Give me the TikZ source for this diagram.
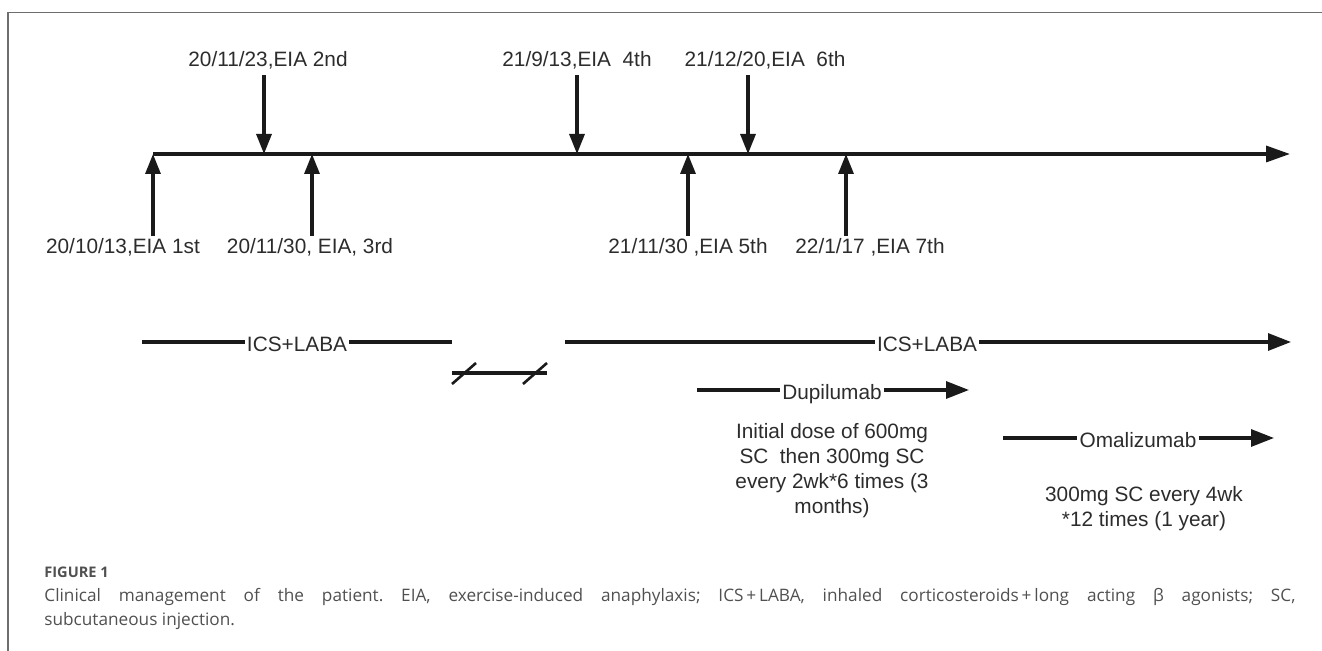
\documentclass[tikz,border=0pt]{standalone}
\usepackage{fontspec}
\setmainfont{Liberation Sans}
\newfontfamily\capfont{Open Sans}
\usetikzlibrary{arrows.meta}
\definecolor{ln}{HTML}{1A1A1A}
\definecolor{txt}{HTML}{2C2C2C}
\definecolor{frame}{HTML}{6E6E6E}
\definecolor{captxt}{HTML}{505050}
\frenchspacing
\begin{document}
\begin{tikzpicture}[x=0.5pt,y=-0.5pt,
  lab/.style={font=\fontsize{10.4}{12.5}\selectfont, text=txt, inner sep=0pt},
  evarrow/.style={line width=1.6pt, draw=ln, -{Triangle[length=10pt,width=7.5pt]}},
  axisline/.style={line width=1.7pt, draw=ln, -{Triangle[length=12pt,width=8pt]}},
  treat/.style={line width=1.6pt, draw=ln},
  treatarrow/.style={treat, -{Triangle[length=11.5pt,width=8.5pt]}},
  framestyle/.style={draw=frame, line width=0.6pt},
  capstyle/.style={font=\capfont\fontsize{8.6}{12}\selectfont, text=captxt, inner sep=0pt}
]
\useasboundingbox (0,0) rectangle (1322,651);
% frame
\coordinate (fr0) at (8,651);
\coordinate (fr1) at (8,12.5);
\coordinate (fr2) at (1322,12.5);
\draw[framestyle] (fr0) -- (fr1) -- (fr2);

% timeline
\coordinate (t0) at (153,154);
\coordinate (t1) at (1290,154);
\draw[axisline] (t0) -- (t1);

% events
\coordinate (e1) at (153,154);  \coordinate (e1s) at (153,236);
\coordinate (e2) at (264,154);  \coordinate (e2s) at (264,75);
\coordinate (e3) at (312,154);  \coordinate (e3s) at (312,236);
\coordinate (e4) at (577,154);  \coordinate (e4s) at (577,75);
\coordinate (e5) at (688,154);  \coordinate (e5s) at (688,236);
\coordinate (e6) at (748,154);  \coordinate (e6s) at (748,75);
\coordinate (e7) at (846,154);  \coordinate (e7s) at (846,236);
\draw[evarrow] (e1s) -- (e1);
\draw[evarrow] (e2s) -- (e2);
\draw[evarrow] (e3s) -- (e3);
\draw[evarrow] (e4s) -- (e4);
\draw[evarrow] (e5s) -- (e5);
\draw[evarrow] (e6s) -- (e6);
\draw[evarrow] (e7s) -- (e7);

\node[lab, anchor=base] (l1) at (123,254) {20/10/13,EIA 1st};
\node[lab, anchor=base] (l2) at (268,67) {20/11/23,EIA 2nd};
\node[lab, anchor=base] (l3) at (310,254) {20/11/30, EIA, 3rd};
\node[lab, anchor=base] (l4) at (577,67) {21/9/13,EIA\ \ 4th};
\node[lab, anchor=base] (l5) at (688,254) {21/11/30 ,EIA 5th};
\node[lab, anchor=base] (l6) at (765,67) {21/12/20,EIA\ \ 6th};
\node[lab, anchor=base] (l7) at (870,254) {22/1/17 ,EIA 7th};

% ICS+LABA first period
\coordinate (ia0) at (142,342);
\coordinate (ia1) at (452,342);
\node[lab, anchor=base, inner xsep=1pt] (ia) at (297,351.5) {ICS+LABA};
\draw[treat] (ia0) -- (ia0 -| ia.west);
\draw[treat] (ia0 -| ia.east) -- (ia1);

% break
\coordinate (b0) at (452,373);
\coordinate (b1) at (547,373);
\coordinate (s1a) at (452,384); \coordinate (s1b) at (476,363);
\coordinate (s2a) at (523,384); \coordinate (s2b) at (547,363);
\draw[treat] (b0) -- (b1);
\draw[treat, line width=1.3pt] (s1a) -- (s1b);
\draw[treat, line width=1.3pt] (s2a) -- (s2b);

% ICS+LABA second period
\coordinate (ib0) at (565,342);
\coordinate (ib1) at (1291,342);
\node[lab, anchor=base, inner xsep=1pt] (ib) at (927,351.5) {ICS+LABA};
\draw[treat] (ib0) -- (ib0 -| ib.west);
\draw[treatarrow] (ib0 -| ib.east) -- (ib1);

% Dupilumab
\coordinate (d0) at (697,390);
\coordinate (d1) at (969,390);
\node[lab, anchor=base, inner xsep=1pt] (dl) at (832,400) {Dupilumab};
\draw[treat] (d0) -- (d0 -| dl.west);
\draw[treatarrow] (d0 -| dl.east) -- (d1);
\node[lab, anchor=north, align=center] (dtext) at (832,423)
  {Initial dose of 600mg\\SC\ \ then 300mg SC\\every 2wk*6 times (3\\months)};

% Omalizumab
\coordinate (o0) at (1003,438);
\coordinate (o1) at (1274,438);
\node[lab, anchor=base, inner xsep=1pt] (ol) at (1138,448) {Omalizumab};
\draw[treat] (o0) -- (o0 -| ol.west);
\draw[treatarrow] (o0 -| ol.east) -- (o1);
\node[lab, anchor=north, align=center] (otext) at (1144,486)
  {300mg SC every 4wk\\*12 times (1 year)};

% caption
\node[capstyle, anchor=base west, font=\capfont\bfseries\fontsize{7.3}{9}\selectfont] (fig) at (44,578) {FIGURE 1};
\node[capstyle, anchor=base west] (cap1) at (44,601.5)
  {\makebox[625.5pt][s]{Clinical management of the patient. EIA, exercise-induced anaphylaxis; ICS\,+\,LABA, inhaled corticosteroids\,+\,long acting β agonists; SC,}};
\node[capstyle, anchor=base west] (cap2) at (44,625) {subcutaneous injection.};
\end{tikzpicture}
\end{document}
